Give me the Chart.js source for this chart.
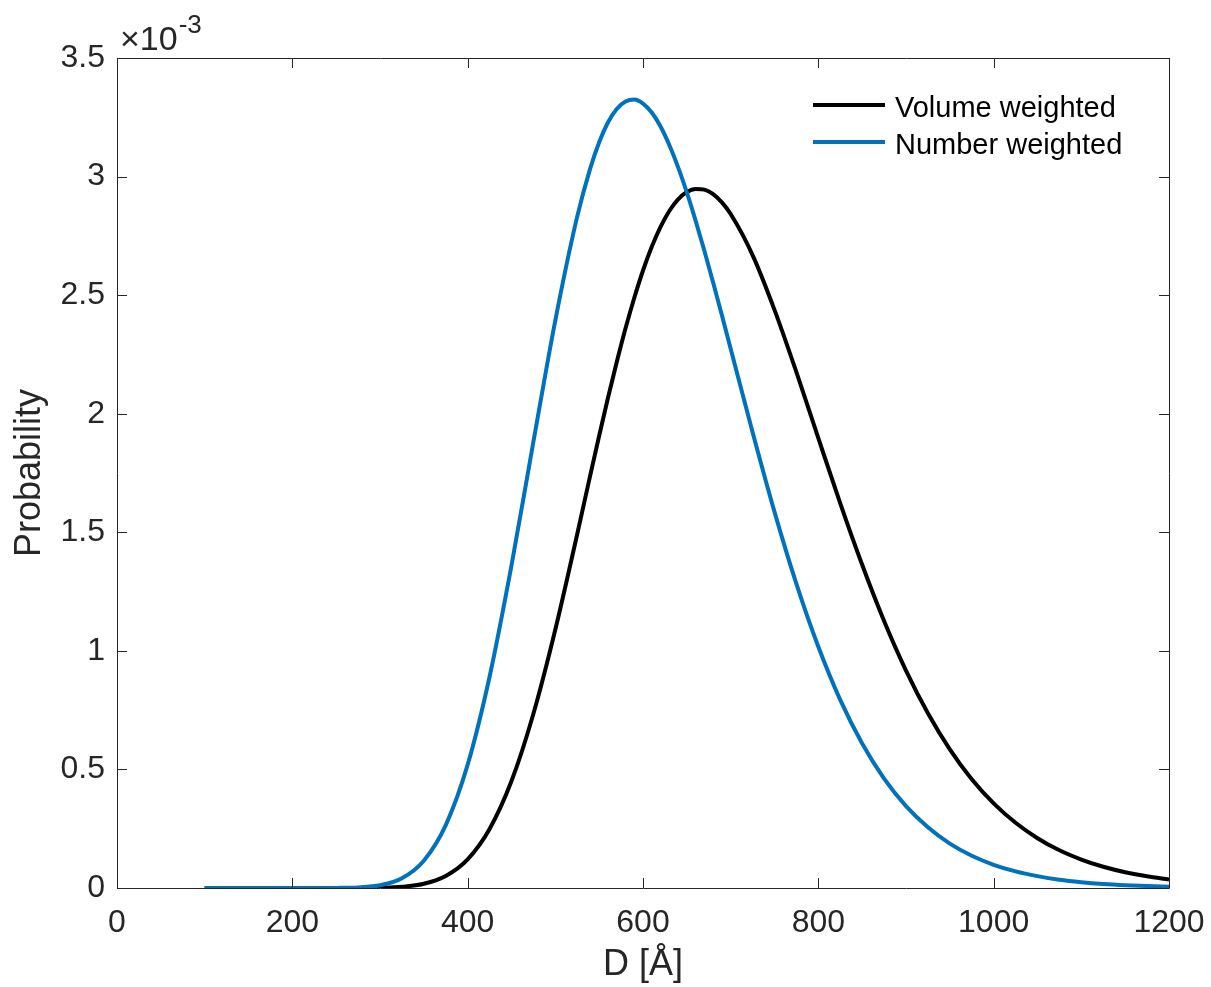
<!DOCTYPE html>
<html>
<head>
<meta charset="utf-8">
<script src="https://cdn.jsdelivr.net/npm/chart.js@4.4.1/dist/chart.umd.min.js"></script>
<style>
  html, body { margin: 0; padding: 0; background: #fff; }
  #wrap { width: 1211px; height: 987px; }
</style>
</head>
<body>
<div id="wrap"><canvas id="c" width="1211" height="987"></canvas></div>
<script>
// Diameter D [Å]
const diameters = [100,125,150,175,200,225,250,275,300,325,350,375,400,425,450,475,500,525,540,550,560,570,580,590,600,610,620,630,640,650,660,670,680,690,700,725,750,775,800,825,850,875,900,925,950,975,1000,1025,1050,1075,1100,1125,1150,1175,1200];
// Probability, in units of 1e-3
const volumeWeighted = [0,0,0,0,0,0,0,0.0002,0.0011,0.0051,0.018,0.051,0.121,0.249,0.451,0.735,1.090,1.493,1.743,1.907,2.066,2.217,2.359,2.488,2.604,2.704,2.788,2.855,2.904,2.935,2.948,2.945,2.926,2.891,2.842,2.669,2.438,2.175,1.897,1.622,1.363,1.126,0.917,0.737,0.585,0.459,0.357,0.275,0.210,0.159,0.120,0.0895,0.0665,0.0492,0.0362];
const numberWeighted = [0,0,0,0,0,0,0.0004,0.0024,0.0116,0.041,0.115,0.265,0.520,0.891,1.360,1.882,2.394,2.832,3.037,3.145,3.228,3.285,3.317,3.325,3.308,3.270,3.211,3.133,3.040,2.933,2.814,2.687,2.553,2.415,2.274,1.922,1.586,1.282,1.017,0.793,0.609,0.461,0.345,0.256,0.187,0.136,0.098,0.070,0.050,0.035,0.0247,0.0172,0.0120,0.0083,0.0057];
const seriesLabels = ['Volume weighted', 'Number weighted'];
const xTicks = [0,200,400,600,800,1000,1200];
const yTicks = [0,0.5,1,1.5,2,2.5,3,3.5];
const yExponent = '-3';
const xTitle = 'D [Å]';
const yTitle = 'Probability';

const FONT = '"Liberation Sans", Arial, Helvetica, sans-serif';
const TEXT = '#262626';
const AXIS = '#262626';

const toXY = (ys) => diameters.map((d, i) => ({ x: d, y: ys[i] }));

const matlabAxes = {
  id: 'matlabAxes',
  afterDatasetsDraw(chart) {
    const { ctx, chartArea: a, scales: { x, y } } = chart;
    ctx.save();
    ctx.strokeStyle = AXIS;
    ctx.lineWidth = 1;
    ctx.beginPath();
    ctx.rect(Math.round(a.left) + 0.5, Math.round(a.top) + 0.5, Math.round(a.right - a.left), Math.round(a.bottom - a.top));
    ctx.stroke();
    const tl = 10;
    ctx.beginPath();
    x.ticks.forEach(t => {
      const px = Math.round(x.getPixelForValue(t.value)) + 0.5;
      ctx.moveTo(px, a.bottom); ctx.lineTo(px, a.bottom - tl);
      ctx.moveTo(px, a.top); ctx.lineTo(px, a.top + tl);
    });
    y.ticks.forEach(t => {
      const py = Math.round(y.getPixelForValue(t.value)) + 0.5;
      ctx.moveTo(a.left, py); ctx.lineTo(a.left + tl, py);
      ctx.moveTo(a.right, py); ctx.lineTo(a.right - tl, py);
    });
    ctx.stroke();

    // exponent label
    ctx.fillStyle = TEXT;
    ctx.textAlign = 'left';
    ctx.textBaseline = 'alphabetic';
    ctx.font = '34px ' + FONT;
    const base = '\u00D710';
    ctx.fillText(base, a.left + 3, a.top - 8);
    const w = ctx.measureText(base).width;
    ctx.font = '26px ' + FONT;
    ctx.fillText(yExponent, a.left + 3 + w + 1, a.top - 25);

    // legend
    ctx.font = '29px ' + FONT;
    ctx.textBaseline = 'middle';
    chart.data.datasets.forEach((ds, i) => {
      const ly = 105 + i * 37;
      ctx.strokeStyle = ds.borderColor;
      ctx.lineWidth = ds.borderWidth;
      ctx.beginPath();
      ctx.moveTo(813, ly); ctx.lineTo(885, ly);
      ctx.stroke();
      ctx.fillStyle = '#000';
      ctx.fillText(ds.label, 895, ly + 4);
    });
    ctx.restore();
  }
};

const plain = (v) => String(v);

new Chart(document.getElementById('c'), {
  type: 'line',
  data: {
    datasets: [
      { label: seriesLabels[0], data: toXY(volumeWeighted), borderColor: '#000000', borderWidth: 4, pointRadius: 0, fill: false, cubicInterpolationMode: 'monotone', order: 1 },
      { label: seriesLabels[1], data: toXY(numberWeighted), borderColor: '#0072BD', borderWidth: 4, pointRadius: 0, fill: false, cubicInterpolationMode: 'monotone', order: 0 }
    ]
  },
  options: {
    responsive: false,
    animation: false,
    events: [],
    layout: { padding: { top: 58, right: 42, left: 0, bottom: 0 } },
    plugins: { legend: { display: false }, tooltip: { enabled: false } },
    scales: {
      x: {
        type: 'linear', min: 0, max: 1200,
        afterBuildTicks: (s) => { s.ticks = xTicks.map(v => ({ value: v })); },
        afterFit: (s) => { s.height = 99; s.paddingLeft = 0; s.paddingRight = 0; },
        grid: { display: false, drawTicks: false },
        border: { display: false },
        ticks: { color: TEXT, font: { family: FONT, size: 32 }, padding: 16, maxRotation: 0, callback: plain },
        title: { display: true, text: xTitle, color: TEXT, font: { family: FONT, size: 36 }, padding: { top: 0, bottom: 0 } }
      },
      y: {
        type: 'linear', min: 0, max: 3.5,
        afterBuildTicks: (s) => { s.ticks = yTicks.map(v => ({ value: v })); },
        afterFit: (s) => { s.width = 117; s.paddingTop = 0; s.paddingBottom = 0; },
        grid: { display: false, drawTicks: false },
        border: { display: false },
        ticks: { color: TEXT, font: { family: FONT, size: 32 }, padding: 12, callback: plain },
        title: { display: true, text: yTitle, color: TEXT, font: { family: FONT, size: 36 }, padding: { top: 8, bottom: 0 } }
      }
    }
  },
  plugins: [matlabAxes]
});
</script>
</body>
</html>
